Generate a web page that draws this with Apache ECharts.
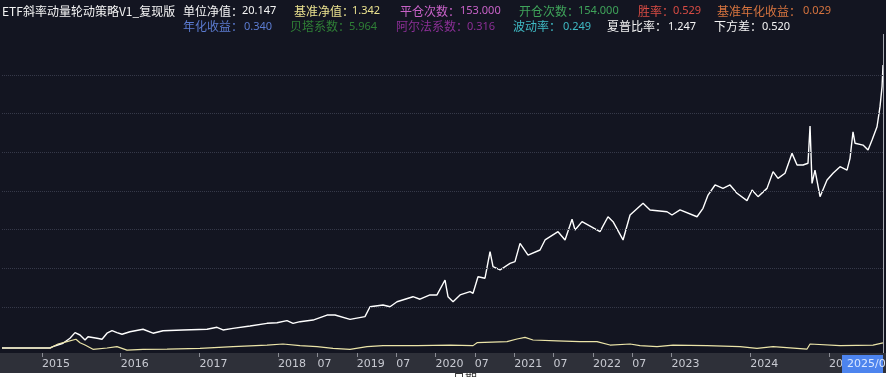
<!DOCTYPE html>
<html>
<head>
<meta charset="utf-8">
<script src="https://cdn.jsdelivr.net/npm/echarts@6/dist/echarts.min.js"></script>
<style>
html,body{margin:0;padding:0;background:#131521;}
#chart{width:886px;height:377px;}
</style>
</head>
<body>
<div id="chart"></div>
<script>
// ---- data (x = fractional calendar year, y = net value) ----
const stratYears = [2014.492,2015.102,2015.140,2015.267,2015.356,2015.420,2015.483,2015.547,2015.585,2015.699,2015.763,2015.826,2015.890,2015.953,2016.017,2016.118,2016.284,2016.411,2016.538,2016.792,2017.097,2017.224,2017.300,2017.427,2017.643,2017.859,2017.986,2018.113,2018.190,2018.279,2018.444,2018.622,2018.723,2018.914,2019.104,2019.168,2019.333,2019.422,2019.511,2019.714,2019.803,2019.930,2020.019,2020.121,2020.159,2020.223,2020.312,2020.439,2020.477,2020.540,2020.629,2020.693,2020.731,2020.820,2020.947,2021.010,2021.074,2021.176,2021.328,2021.392,2021.557,2021.646,2021.735,2021.773,2021.862,2022.090,2022.192,2022.256,2022.383,2022.472,2022.637,2022.726,2022.942,2023.005,2023.107,2023.323,2023.399,2023.463,2023.552,2023.653,2023.742,2023.831,2023.958,2024.022,2024.098,2024.212,2024.289,2024.352,2024.441,2024.530,2024.594,2024.670,2024.733,2024.759,2024.784,2024.822,2024.886,2024.975,2025.051,2025.140,2025.229,2025.267,2025.305,2025.331,2025.432,2025.496,2025.547,2025.610,2025.648,2025.674,2025.686];
const stratNav = [1.00,1.00,1.09,1.32,1.66,2.04,1.88,1.54,1.76,1.66,1.59,2.00,2.17,2.04,1.93,2.10,2.27,2.00,2.17,2.22,2.27,2.40,2.22,2.33,2.49,2.67,2.71,2.85,2.67,2.78,2.89,3.23,3.23,2.94,3.12,3.79,3.91,3.79,4.13,4.47,4.30,4.59,4.59,5.60,4.47,4.13,4.59,4.81,4.70,5.82,5.72,7.52,6.50,6.28,6.73,6.84,8.08,7.29,7.63,8.31,8.87,8.31,9.71,8.98,9.55,8.87,9.88,9.55,8.31,10.00,10.79,10.34,10.22,10.00,10.34,9.88,10.45,11.35,12.03,11.80,12.03,11.47,10.97,11.69,11.24,11.80,12.93,12.48,12.82,14.17,13.38,13.38,13.50,16.02,12.14,13.04,11.24,12.37,12.82,13.27,13.04,13.83,15.63,14.85,14.73,14.40,15.07,15.97,17.33,18.68,20.147];

const benchYears = [2014.492,2015.102,2015.204,2015.318,2015.432,2015.483,2015.547,2015.648,2015.826,2015.953,2016.080,2016.284,2016.589,2017.008,2017.427,2017.859,2018.062,2018.279,2018.495,2018.698,2018.914,2019.130,2019.333,2019.765,2020.185,2020.477,2020.528,2020.909,2021.036,2021.138,2021.239,2021.544,2021.836,2022.052,2022.218,2022.472,2022.599,2022.815,2023.018,2023.450,2023.869,2024.085,2024.289,2024.721,2024.759,2025.140,2025.559,2025.686];
const benchNav = [1.00,1.00,1.27,1.43,1.59,1.36,1.20,0.91,1.00,1.09,0.86,0.91,0.93,0.98,1.09,1.20,1.27,1.16,1.09,0.98,0.91,1.09,1.16,1.16,1.20,1.16,1.36,1.43,1.61,1.72,1.54,1.48,1.43,1.43,1.20,1.27,1.16,1.09,1.20,1.16,1.09,0.98,1.09,0.93,1.27,1.16,1.20,1.342];

const tickYears = [2015,2016,2017,2018,2018.5,2019,2019.5,2020,2020.5,2021,2021.5,2022,2022.5,2023,2024,2025];
const tickLabels = ['2015','2016','2017','2018','07','2019','07','2020','07','2021','07','2022','07','2023','2024','2025'];

const chartTitle = 'ETF斜率动量轮动策略V1_复现版';
const statNames = ['单位净值','基准净值','平仓次数','开仓次数','胜率','基准年化收益','年化收益','贝塔系数','阿尔法系数','波动率','夏普比率','下方差'];
const statValues = ['20.147','1.342','153.000','154.000','0.529','0.029','0.340','5.964','0.316','0.249','1.247','0.520'];
const pointerLabel = '2025/0';
const axisName = '日期';

// ---- layout / style (not data) ----
const statColors = ['#f4f4f4','#e9e08e','#c862c8','#3fa35a','#d94c44','#d7743f','#5b7bd0','#2f7f36','#8b2f96','#3fbac4','#f4f4f4','#f4f4f4'];
const statPos = [[183,242,11],[294,352,11],[400,460,11],[519,578,11],[638,673,11],[717,803,11],
                 [183,244,26.5],[290,349,26.5],[396,467,26.5],[513,563,26.5],[607,668,26.5],[714,762,26.5]];
const gridValues = [];
for (let i = 0; i < 7; i++) gridValues.push(3.774 + i * 2.616);

const chart = echarts.init(document.getElementById('chart'), null, {renderer: 'canvas'});

const graphics = [
  {type:'rect', z:-5, shape:{x:0,y:353,width:886,height:20}, style:{fill:'#2e3039'}},
  {type:'rect', z:-5, shape:{x:0,y:373,width:886,height:4}, style:{fill:'#ffffff'}},
  {type:'text', z:5, x:453, y:372, style:{text:axisName, fill:'#333333', font:'12px "Noto Sans CJK SC"', verticalAlign:'top'}},
  {type:'line', z:5, shape:{x1:883.5,y1:34,x2:883.5,y2:353}, style:{stroke:'#a8aab2', lineWidth:1}},
  {type:'rect', z:10, shape:{x:842,y:355,width:41,height:18}, style:{fill:'#4d84ee'}},
  {type:'text', z:11, x:847, y:364, style:{text:pointerLabel, fill:'#d8e6ff', font:'11px "DejaVu Sans"', verticalAlign:'middle'}},
  {type:'text', z:5, x:2, y:11, style:{text:chartTitle, fill:'#f4f4f4', font:'12px "Noto Sans CJK SC"', verticalAlign:'middle'}}
];
statNames.forEach((n, i) => {
  const p = statPos[i];
  graphics.push({type:'text', z:5, x:p[0], y:p[2], style:{text:n + '：', fill:statColors[i], font:'12px "Noto Sans CJK SC"', verticalAlign:'middle'}});
  graphics.push({type:'text', z:5, x:p[1], y:p[2], style:{text:statValues[i], fill:statColors[i], font:'11px "Noto Sans"', verticalAlign:'middle'}});
});

chart.setOption({
  backgroundColor: '#131521',
  animation: false,
  grid: {left: 2, right: 3, top: 34, bottom: 24, containLabel: false},
  xAxis: {
    type: 'value', min: 2014.492, max: 2025.686,
    axisLine: {show: false},
    splitLine: {show: false},
    axisTick: {show: true, customValues: tickYears, length: 4, lineStyle: {color: '#8a8c94'}},
    axisLabel: {
      show: true, customValues: tickYears, align: 'left', margin: 6,
      color: '#c8cad2', fontSize: 11, fontFamily: 'DejaVu Sans',
      formatter: v => { const k = tickYears.findIndex(t => Math.abs(t - v) < 1e-6); return k >= 0 ? tickLabels[k] : ''; }
    }
  },
  yAxis: {type: 'value', min: 0.6617, max: 22.245, show: false, splitLine: {show: false}},
  series: [
    {
      name: '单位净值', type: 'line', showSymbol: false, z: 3,
      data: stratYears.map((t, i) => [t, stratNav[i]]),
      lineStyle: {color: '#ffffff', width: 1.4},
      markLine: {
        silent: true, symbol: ['none','none'], label: {show: false}, animation: false,
        lineStyle: {type: 'dotted', color: '#363949', width: 1},
        data: gridValues.map(v => ({yAxis: v}))
      }
    },
    {
      name: '基准净值', type: 'line', showSymbol: false, z: 4,
      data: benchYears.map((t, i) => [t, benchNav[i]]),
      lineStyle: {color: '#ebe4a8', width: 1.2}
    }
  ],
  graphic: graphics
});
</script>
</body>
</html>
